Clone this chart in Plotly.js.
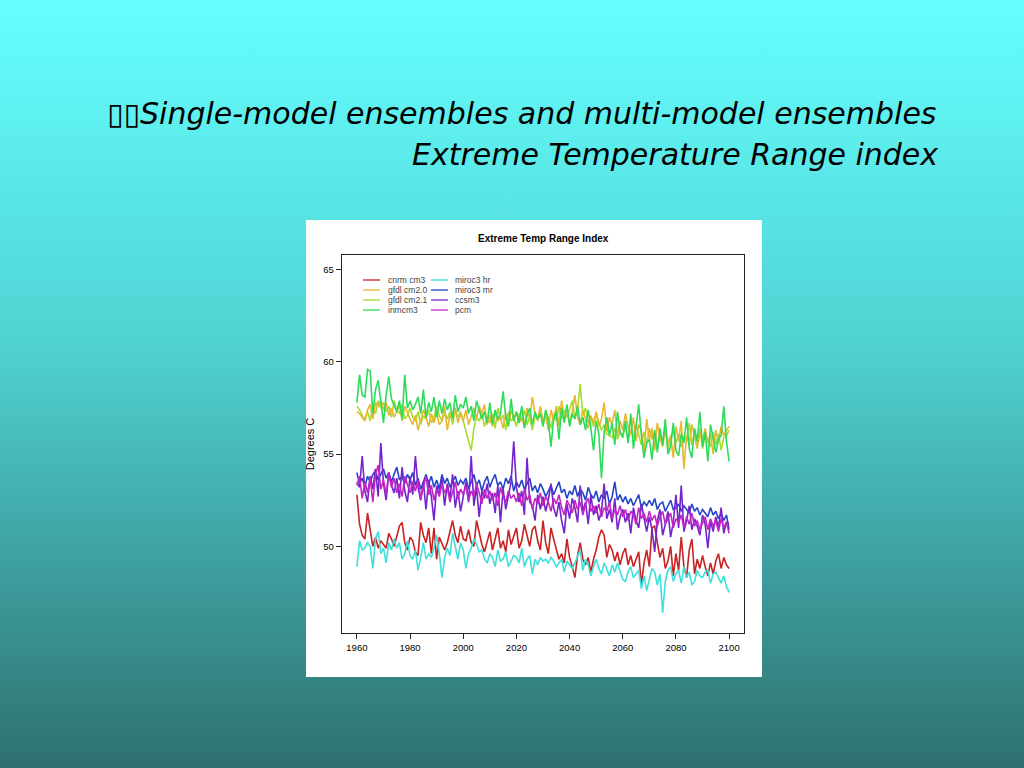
<!DOCTYPE html>
<html>
<head>
<meta charset="utf-8">
<script src="https://cdn.plot.ly/plotly-3.0.1.min.js"></script>
<style>
html,body{margin:0;padding:0;width:1024px;height:768px;overflow:hidden;}
body{background:linear-gradient(to bottom,#66FFFF 0%,#50D2D2 45%,#2E7070 100%);}
#chart{width:1024px;height:768px;}
</style>
</head>
<body>
<div id="chart"></div>
<script>
// ---------- data ----------
const years = [];
for (let y = 1960; y <= 2100; y++) years.push(y);

const seriesNames = ["cnrm cm3","gfdl cm2.0","gfdl cm2.1","inmcm3","miroc3 hr","miroc3 mr","ccsm3","pcm"];
const seriesColors = ["#C82222","#E8B630","#A6DE2E","#2EDB5A","#3EE0DC","#2445C8","#7424CC","#C424C4"];

const cnrm = [
52.8,51.2,50.6,50.4,51.8,50.9,50.0,50.5,49.9,50.3,
50.1,49.9,50.7,50.4,50.0,50.6,51.1,51.3,50.2,49.8,
50.5,50.3,49.7,49.5,51.3,50.6,50.2,51.0,49.6,51.0,
49.3,50.5,50.1,49.8,50.2,50.8,51.4,50.6,50.2,51.1,
50.4,50.3,50.9,50.2,50.0,51.4,50.8,50.1,49.7,50.2,
50.8,49.8,50.5,51.0,49.9,50.3,49.7,50.9,50.1,50.6,
51.0,49.9,50.3,51.2,50.6,50.0,50.9,51.1,50.3,49.8,
51.4,50.2,49.6,51.0,50.4,49.8,49.3,49.6,49.1,50.4,
49.4,48.9,48.3,49.5,50.2,49.3,49.0,49.4,48.6,49.3,
49.8,50.5,50.9,50.6,49.4,50.1,49.8,49.2,49.7,49.0,
49.6,49.9,49.0,49.5,48.9,49.3,49.7,47.9,49.1,49.8,
48.9,51.0,51.1,50.2,49.4,49.9,48.8,49.2,50.0,48.4,
49.6,48.7,50.5,48.9,48.3,49.8,50.4,48.5,49.3,48.8,
49.5,48.9,48.4,49.1,48.5,49.2,49.6,48.8,49.4,49.0,
48.8];

const gfdl20 = [
57.3,57.2,57.0,56.8,57.4,57.7,56.9,57.8,57.6,57.9,
57.4,57.8,57.1,57.5,57.0,57.3,57.7,56.8,57.6,57.2,
56.9,56.6,57.1,56.3,56.9,57.4,57.0,56.5,57.2,56.7,
57.3,56.6,56.8,57.6,56.3,57.1,56.9,57.5,56.7,57.2,
56.8,57.4,56.6,57.0,57.5,56.9,57.6,57.2,57.7,56.6,
57.1,56.5,57.3,56.8,57.0,56.4,57.2,56.7,57.4,56.9,
57.3,56.7,57.0,56.5,57.5,56.9,58.1,57.2,56.8,57.6,
56.6,57.1,56.3,57.4,56.8,57.6,56.5,57.9,56.9,57.2,
56.7,57.3,58.2,57.0,56.6,57.4,56.9,56.4,57.1,56.7,
57.3,56.5,56.9,57.8,56.2,57.0,56.6,57.4,56.0,56.8,
56.3,57.2,56.5,56.1,57.0,55.7,56.6,56.3,55.1,56.9,
55.8,56.4,55.2,56.7,55.9,55.4,56.3,55.6,56.0,54.8,
56.5,55.7,56.8,54.2,56.0,55.5,56.6,55.9,55.3,56.2,
55.8,56.4,55.6,56.1,55.0,56.3,55.7,56.5,56.0,56.3,
56.5];

const gfdl21 = [
57.6,57.4,57.1,56.9,57.3,56.8,57.6,57.2,57.9,57.5,
57.8,57.3,57.6,57.0,57.9,57.4,57.2,57.7,56.9,57.1,
57.5,57.0,56.8,57.3,56.6,57.1,56.9,57.4,56.7,57.0,
57.6,57.1,56.8,57.2,56.9,57.3,56.6,57.4,57.0,57.3,
56.8,56.2,55.7,55.2,56.4,57.0,56.8,57.2,56.5,57.0,
56.7,57.2,56.4,57.5,56.9,57.1,56.3,57.3,56.8,57.0,
56.5,57.2,56.8,57.4,56.6,57.0,56.3,57.1,56.9,57.5,
56.7,57.3,57.0,56.4,57.2,56.8,57.6,56.9,57.4,57.0,
57.5,57.9,57.0,57.4,58.8,57.1,57.5,56.7,57.0,56.5,
57.2,56.8,56.3,56.6,56.1,56.0,55.9,56.4,55.8,56.2,
56.0,56.5,55.7,56.3,55.9,56.6,56.1,55.5,56.2,55.6,
56.4,55.8,56.2,55.3,56.0,55.7,56.5,55.2,55.9,56.3,
55.6,56.1,55.4,56.0,55.8,56.7,55.5,56.2,55.6,56.4,
55.3,56.0,55.8,55.4,56.2,55.5,56.1,55.2,55.9,56.0,
56.3];

const inmcm3 = [
57.8,59.3,58.2,58.1,59.6,59.5,57.2,58.5,59.0,57.7,
56.7,58.2,59.2,58.0,57.6,57.3,57.9,56.9,59.3,57.5,
57.9,57.4,57.7,58.1,57.2,58.5,57.0,57.8,57.3,58.1,
57.0,57.9,57.2,58.0,57.4,57.8,56.9,58.2,57.3,57.7,
57.5,58.1,57.2,57.6,56.8,57.9,57.4,56.9,57.3,56.7,
57.8,56.6,57.4,56.9,57.2,58.4,57.0,56.5,58.0,56.8,
57.3,56.7,57.6,56.4,57.1,57.5,56.6,57.3,56.9,57.2,
56.5,57.4,56.8,55.4,56.9,57.3,55.8,57.5,56.7,57.7,
56.5,57.2,56.9,57.6,56.6,57.0,56.3,57.4,56.4,55.2,
56.8,56.1,53.7,56.2,57.0,56.0,56.7,55.5,57.3,56.2,
55.9,56.8,55.6,57.2,55.3,56.5,57.7,56.0,54.8,55.6,
55.8,54.7,56.3,55.1,56.4,55.5,56.9,55.0,55.4,56.7,
55.2,54.9,56.1,55.6,57.0,55.3,54.8,56.4,55.7,57.3,
55.4,56.2,54.6,56.6,55.9,55.1,55.8,56.0,57.6,55.7,
54.6];

const mirocHr = [
48.9,50.3,49.8,49.9,50.2,50.0,48.8,50.4,50.8,49.6,
49.9,49.1,50.2,49.8,50.4,49.9,50.2,49.3,49.6,50.3,
49.5,49.3,49.8,48.7,49.4,50.2,49.3,49.6,49.4,49.9,
50.6,49.6,48.3,49.4,49.9,49.5,50.7,49.9,49.3,50.2,
49.8,48.8,49.6,49.9,50.4,50.1,49.7,49.8,49.3,49.1,
49.6,49.4,48.9,49.8,49.2,49.3,49.7,48.9,49.2,49.5,
49.4,49.1,49.9,48.9,49.3,49.5,48.5,49.3,49.0,49.4,
49.2,49.3,49.1,49.4,49.2,48.9,49.1,49.3,48.6,49.2,
49.0,48.8,49.1,49.5,49.8,48.7,49.3,49.0,48.4,48.9,
49.3,48.8,48.5,49.1,48.7,48.4,49.0,48.6,49.1,48.7,
48.2,48.1,48.6,48.9,48.3,48.5,48.7,47.7,48.4,47.6,
48.3,48.8,48.6,47.9,48.5,46.4,48.1,48.7,48.9,48.1,
48.5,48.7,48.0,48.9,48.3,48.6,47.9,48.1,48.7,48.4,
48.3,48.6,48.7,48.0,48.5,48.6,48.3,48.0,48.4,47.8,
47.5];

const mirocMr = [
54.0,53.4,53.7,53.2,53.8,53.5,53.9,54.1,53.6,53.9,
54.2,53.7,54.0,53.5,53.9,54.3,53.6,53.8,53.4,53.9,
53.6,54.0,53.3,53.7,53.1,53.5,53.9,53.4,53.8,53.2,
53.6,53.1,53.9,53.4,53.7,53.2,53.5,53.8,53.3,53.6,
53.4,53.7,53.1,53.5,53.9,53.3,53.6,53.0,53.5,53.8,
53.2,53.6,53.9,53.3,53.5,53.1,53.7,53.4,53.8,53.0,
53.5,53.2,53.6,53.1,53.4,53.7,53.0,53.3,52.9,53.4,
53.1,52.7,53.0,53.3,52.8,53.2,53.5,52.9,53.1,52.6,
53.0,52.8,53.3,52.7,53.1,52.9,52.5,53.2,52.8,52.6,
53.0,52.4,52.8,52.6,53.0,52.3,52.7,53.5,52.5,52.8,
52.4,52.7,52.3,52.6,52.2,52.5,52.8,52.1,52.4,52.2,
52.5,52.2,52.6,52.0,52.3,52.4,51.9,52.2,52.5,52.0,
52.1,52.3,51.9,52.2,52.0,51.8,52.3,51.9,52.1,51.7,
52.0,51.8,51.6,52.1,51.7,51.9,51.5,51.8,51.4,51.7,
50.9];

const ccsm3 = [
53.5,53.2,54.9,53.0,52.4,53.8,53.1,54.2,52.7,55.6,
53.4,52.5,54.0,53.3,52.9,53.7,52.6,54.3,53.0,52.4,
53.8,52.8,54.9,53.2,52.5,53.5,52.0,53.6,52.7,51.4,
53.3,52.8,53.7,52.2,53.4,52.6,53.9,52.1,53.0,51.9,
52.7,53.5,52.4,54.9,52.2,53.2,51.6,53.0,52.6,53.4,
52.3,52.9,51.8,53.3,51.3,53.1,52.0,52.8,53.5,55.7,
53.2,52.4,53.0,51.7,54.8,52.4,52.2,51.4,52.8,52.0,
52.7,51.9,52.5,53.4,52.1,51.6,52.4,51.4,50.7,52.3,
51.5,52.6,52.1,51.3,53.3,51.9,52.4,51.2,52.8,51.7,
52.2,51.4,51.9,53.4,51.5,52.0,51.3,52.6,50.9,51.6,
52.0,51.3,51.8,50.7,52.1,51.4,51.0,52.3,51.5,50.8,
51.6,50.9,49.7,51.4,52.0,50.6,51.2,51.9,50.5,51.3,
52.8,51.0,53.3,50.8,51.4,52.2,50.9,51.5,51.1,50.6,
51.7,51.2,49.9,51.4,50.8,51.6,51.0,52.1,50.7,51.3,
51.2];

const pcm = [
53.3,53.8,52.6,53.5,52.9,53.7,52.4,53.9,54.4,53.1,
53.6,52.8,54.0,53.2,53.7,52.9,53.4,52.7,53.8,53.3,
52.9,53.5,53.0,53.6,52.6,53.2,53.8,52.8,53.3,52.5,
53.1,52.7,53.4,52.9,53.2,52.4,53.0,53.5,52.6,53.1,
52.8,53.3,52.5,53.0,52.7,53.4,52.9,52.3,53.1,52.6,
53.0,52.5,52.9,52.2,53.2,52.7,52.4,53.0,52.6,52.8,
52.4,52.9,52.2,53.1,52.5,52.8,52.0,52.6,52.3,52.9,
52.2,52.7,52.4,51.9,52.6,52.3,52.8,52.1,51.7,52.5,
52.2,51.8,52.5,52.0,52.4,51.7,52.3,52.6,51.9,52.2,
51.8,52.3,51.6,52.1,51.9,52.4,51.5,52.0,51.7,52.2,
51.6,52.0,51.4,51.9,51.7,51.2,52.1,51.5,51.8,51.3,
51.9,51.4,51.7,51.1,51.6,51.9,51.2,51.5,51.8,51.0,
51.5,51.3,51.7,51.0,51.6,51.2,51.8,51.1,51.4,50.9,
51.3,51.6,50.9,51.5,51.1,51.4,50.8,51.5,51.0,51.3,
50.7];

const seriesValues = [cnrm, gfdl20, gfdl21, inmcm3, mirocHr, mirocMr, ccsm3, pcm];
// draw order (as in reference: later ones on top)
const drawOrder = [2,1,3,0,4,5,6,7];

const xTicks = [1960,1980,2000,2020,2040,2060,2080,2100];
const yTicks = [50,55,60,65];

// ---------- layout geometry (pixels) ----------
const W = 1024, H = 768;
const L = 342, R = 744, T = 255, B = 633;
const px = x => (x - L) / (R - L);
const py = y => (B - y) / (B - T);

const traces = drawOrder.map(i => ({
  type: 'scatter', mode: 'lines',
  x: years, y: seriesValues[i], name: seriesNames[i],
  line: {color: seriesColors[i], width: 1.6},
  showlegend: false, hoverinfo: 'skip'
}));

const shapes = [
  // white embedded figure background
  {type:'rect', xref:'paper', yref:'paper', layer:'below',
   x0:px(306), x1:px(762), y0:py(677), y1:py(220),
   fillcolor:'#FFFFFF', line:{width:0}}
];
const titleFont = {family:'DejaVu Sans', size:30, color:'#000'};
const annotations = [
  {text:'\u25AF\u25AFSingle-model ensembles and multi-model ensembles', xref:'paper', yref:'paper',
   x:px(938), y:py(113), xanchor:'right', yanchor:'middle', showarrow:false, font:titleFont},
  {text:'Extreme Temperature Range index', xref:'paper', yref:'paper',
   x:px(938), y:py(155), xanchor:'right', yanchor:'middle', showarrow:false, font:titleFont},
  {text:'<b>Extreme Temp Range Index</b>', xref:'paper', yref:'paper',
   x:0.5, y:py(238), xanchor:'center', yanchor:'middle', showarrow:false,
   font:{family:'Liberation Sans, Arial', size:10, color:'#000'}}
];

// manual legend (two columns, as in the R figure)
const legCols = [{lx0:363, lx1:380, tx:386}, {lx0:431, lx1:448, tx:453}];
const legRows = [280, 290, 300, 310];
seriesNames.forEach((nm, i) => {
  const c = legCols[Math.floor(i / 4)];
  const yy = legRows[i % 4];
  shapes.push({type:'line', xref:'paper', yref:'paper',
    x0:px(c.lx0), x1:px(c.lx1), y0:py(yy), y1:py(yy),
    line:{color:seriesColors[i], width:1.3}});
  annotations.push({text:nm, xref:'paper', yref:'paper', x:px(c.tx), y:py(yy),
    xanchor:'left', yanchor:'middle', showarrow:false,
    font:{family:'Liberation Sans, Arial', size:8.5, color:'#444'}});
});

const layout = {
  width: W, height: H,
  margin: {l: L, r: W - R, t: T, b: H - B, pad: 0},
  paper_bgcolor: 'rgba(0,0,0,0)',
  plot_bgcolor: '#FFFFFF',
  showlegend: false,
  xaxis: {
    range: [1954.4, 2105.6], tickmode: 'array', tickvals: xTicks,
    ticktext: xTicks.map(String),
    showgrid: false, zeroline: false, showline: true, mirror: true,
    linecolor: '#222', linewidth: 1.2, ticks: 'outside', ticklen: 5, tickcolor: '#222',
    tickfont: {family: 'Liberation Sans, Arial', size: 9.5, color: '#000'}
  },
  yaxis: {
    range: [45.3, 65.8], tickmode: 'array', tickvals: yTicks,
    ticktext: yTicks.map(String),
    showgrid: false, zeroline: false, showline: true, mirror: true,
    linecolor: '#222', linewidth: 1.2, ticks: 'outside', ticklen: 5, tickcolor: '#222',
    tickfont: {family: 'Liberation Sans, Arial', size: 9.5, color: '#000'},
    title: {text: 'Degrees C', standoff: 6,
      font: {family: 'Liberation Sans, Arial', size: 11, color: '#000'}}
  },
  shapes: shapes,
  annotations: annotations
};

Plotly.newPlot('chart', traces, layout, {staticPlot: true, displayModeBar: false});

// italic slide title
document.querySelectorAll('.annotation-text').forEach((el, k) => {
  if (k < 2) el.style.fontStyle = 'italic';
});
</script>
</body>
</html>
